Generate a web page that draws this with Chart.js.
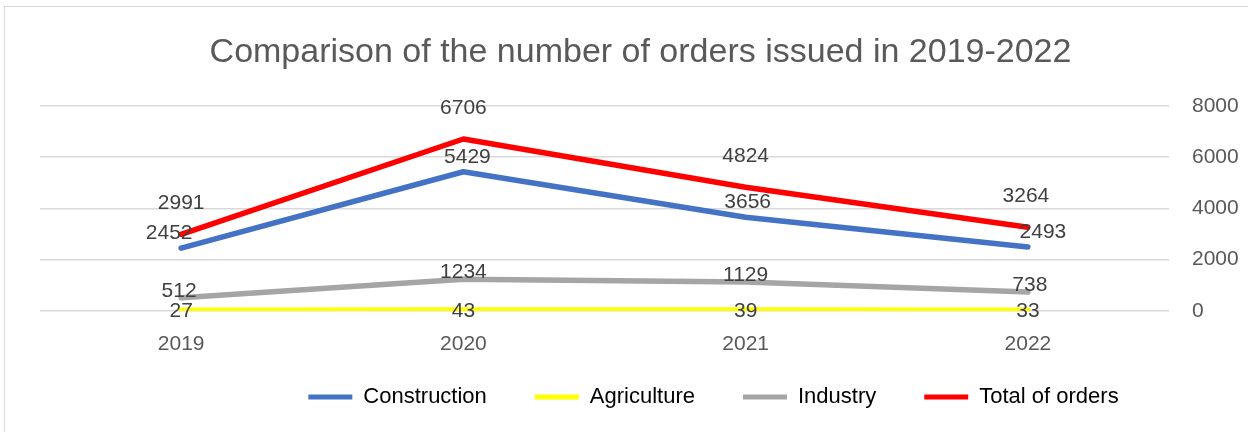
<!DOCTYPE html>
<html lang="en">
<head>
    <meta charset="UTF-8">
    <title>Orders 2019-2022</title>
    <style>
        body {
            margin: 0;
            background: #ffffff;
        }
        /* frame like the spreadsheet chart box */
        .frame {
            position: absolute;
            left: 4px;
            top: 6px;
            width: 1260px;
            height: 440px;
            border: 1px solid #d9d9d9;
        }
        .wrap {
            position: absolute;
            left: 0;
            top: 0;
            width: 1248px;
            height: 432px;
        }
    </style>
    <script src="https://cdn.jsdelivr.net/npm/chart.js"></script>
</head>
<body>
    <div class="frame"></div>
    <div class="wrap">
        <canvas id="ordersChart" width="1248" height="432"></canvas>
    </div>

    <script>
        const years = ['2019', '2020', '2021', '2022'];
        const construction = [2452, 5429, 3656, 2493];
        const agriculture = [27, 43, 39, 33];
        const industry = [512, 1234, 1129, 738];
        const totalOrders = [2991, 6706, 4824, 3264];
        const yTicks = [0, 2000, 4000, 6000, 8000];

        // where each value label sits relative to its point (px)
        const labelShift = {
            'Construction': { dx: [-12, 4, 2, 15], dy: -15 },
            'Agriculture': { dx: [0, 0, 0, 0], dy: 1 },
            'Industry': { dx: [-2, 0, 0, 2], dy: -7 },
            'Total of orders': { dx: [0, 0, 0, -2], dy: -31 }
        };

        const FONT = '"Liberation Sans", Arial, sans-serif';

        const valueLabels = {
            id: 'valueLabels',
            afterDatasetsDraw(chart) {
                const ctx = chart.ctx;
                ctx.save();
                ctx.font = '21px ' + FONT;
                ctx.fillStyle = '#404040';
                ctx.textAlign = 'center';
                ctx.textBaseline = 'middle';
                chart.data.datasets.forEach((ds, i) => {
                    const meta = chart.getDatasetMeta(i);
                    const shift = labelShift[ds.label];
                    meta.data.forEach((pt, j) => {
                        ctx.fillText(String(ds.data[j]), pt.x + shift.dx[j], pt.y + shift.dy);
                    });
                });
                ctx.restore();
            }
        };

        // the legend in the original sits a bit right of centre and tighter under the axis
        const legendNudge = {
            id: 'legendNudge',
            afterLayout(chart) {
                const lg = chart.legend;
                if (!lg) return;
                lg.left += 73; lg.right += 73;
                lg.top -= 20; lg.bottom -= 20;
            }
        };

        function series(label, data, color) {
            return {
                label: label,
                data: data,
                borderColor: color,
                backgroundColor: color,
                borderWidth: 5.5,
                borderCapStyle: 'round',
                borderJoinStyle: 'round',
                pointRadius: 0,
                tension: 0,
                fill: false
            };
        }

        const ctx = document.getElementById('ordersChart').getContext('2d');
        new Chart(ctx, {
            type: 'line',
            data: {
                labels: years,
                datasets: [
                    series('Construction', construction, '#4472C4'),
                    series('Agriculture', agriculture, '#FFFF00'),
                    series('Industry', industry, '#A5A5A5'),
                    series('Total of orders', totalOrders, '#FF0000')
                ]
            },
            options: {
                responsive: false,
                animation: false,
                layout: {
                    padding: { top: 32, left: 40, right: 7, bottom: -6 }
                },
                plugins: {
                    title: {
                        display: true,
                        text: 'Comparison of the number of orders issued in 2019-2022',
                        color: '#595959',
                        font: { family: FONT, size: 34, weight: 'normal' },
                        padding: { top: 0, bottom: 33 }
                    },
                    legend: {
                        position: 'bottom',
                        labels: {
                            color: '#000000',
                            font: { family: FONT, size: 22 },
                            boxWidth: 44,
                            boxHeight: 5,
                            padding: 48,
                            generateLabels(chart) {
                                const items = Chart.defaults.plugins.legend.labels.generateLabels(chart);
                                items.forEach(it => { it.lineWidth = 0; });
                                return items;
                            }
                        }
                    },
                    tooltip: { enabled: false }
                },
                scales: {
                    x: {
                        offset: true,
                        afterFit(axis) {
                            axis.height = 47;
                        },
                        grid: { display: false, drawTicks: false },
                        border: { display: false },
                        ticks: {
                            color: '#595959',
                            font: { family: FONT, size: 21 },
                            padding: 21
                        }
                    },
                    y: {
                        position: 'right',
                        min: 0,
                        max: 8000,
                        afterBuildTicks(axis) {
                            axis.ticks = yTicks.map(v => ({ value: v }));
                        },
                        afterFit(axis) {
                            axis.width = 72;
                        },
                        grid: { color: '#d9d9d9', lineWidth: 1.5, drawTicks: false },
                        border: { display: false },
                        ticks: {
                            color: '#595959',
                            font: { family: FONT, size: 21 },
                            padding: 23,
                            callback: v => String(v)
                        }
                    }
                }
            },
            plugins: [valueLabels, legendNudge]
        });
    </script>
</body>
</html>
